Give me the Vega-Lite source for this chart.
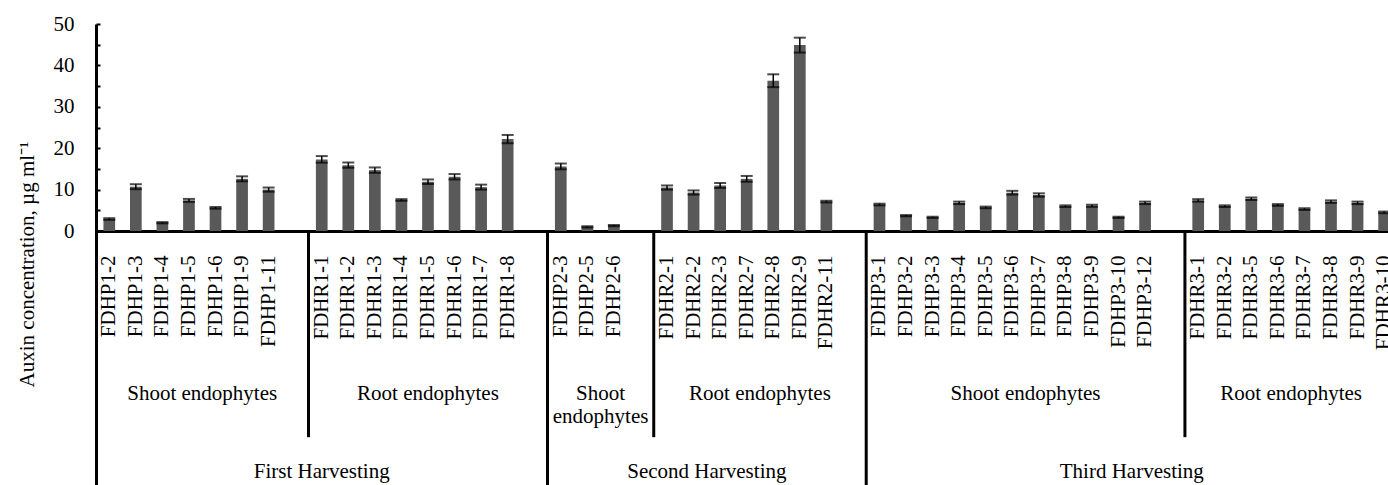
{
  "$schema": "https://vega.github.io/schema/vega-lite/v6.json",
  "width": 1292,
  "height": 461,
  "autosize": {"type": "none"},
  "padding": {"left": 96, "top": 24, "right": 0, "bottom": 0},
  "background": "white",
  "config": {"view": {"stroke": null}, "font": "Liberation Serif", "text": {"font": "Liberation Serif", "fontSize": 21, "color": "black"}, "mark": {"font": "Liberation Serif"}},
  "datasets": {
    "bars": [
      {"strain": "FDHP1-2", "harvest": "First Harvesting", "part": "Shoot endophytes", "value": 2.9, "err": 0.2},
      {"strain": "FDHP1-3", "harvest": "First Harvesting", "part": "Shoot endophytes", "value": 10.7, "err": 0.6},
      {"strain": "FDHP1-4", "harvest": "First Harvesting", "part": "Shoot endophytes", "value": 2.0, "err": 0.15},
      {"strain": "FDHP1-5", "harvest": "First Harvesting", "part": "Shoot endophytes", "value": 7.4, "err": 0.35},
      {"strain": "FDHP1-6", "harvest": "First Harvesting", "part": "Shoot endophytes", "value": 5.6, "err": 0.2},
      {"strain": "FDHP1-9", "harvest": "First Harvesting", "part": "Shoot endophytes", "value": 12.6, "err": 0.6},
      {"strain": "FDHP1-11", "harvest": "First Harvesting", "part": "Shoot endophytes", "value": 10.0, "err": 0.5},
      {"strain": "FDHR1-1", "harvest": "First Harvesting", "part": "Root endophytes", "value": 17.3, "err": 0.8},
      {"strain": "FDHR1-2", "harvest": "First Harvesting", "part": "Root endophytes", "value": 15.9, "err": 0.65},
      {"strain": "FDHR1-3", "harvest": "First Harvesting", "part": "Root endophytes", "value": 14.7, "err": 0.65},
      {"strain": "FDHR1-4", "harvest": "First Harvesting", "part": "Root endophytes", "value": 7.5, "err": 0.2},
      {"strain": "FDHR1-5", "harvest": "First Harvesting", "part": "Root endophytes", "value": 11.9, "err": 0.55},
      {"strain": "FDHR1-6", "harvest": "First Harvesting", "part": "Root endophytes", "value": 13.1, "err": 0.65},
      {"strain": "FDHR1-7", "harvest": "First Harvesting", "part": "Root endophytes", "value": 10.6, "err": 0.6},
      {"strain": "FDHR1-8", "harvest": "First Harvesting", "part": "Root endophytes", "value": 22.2, "err": 1.0},
      {"strain": "FDHP2-3", "harvest": "Second Harvesting", "part": "Shoot endophytes", "value": 15.6, "err": 0.7},
      {"strain": "FDHP2-5", "harvest": "Second Harvesting", "part": "Shoot endophytes", "value": 1.0, "err": 0.15},
      {"strain": "FDHP2-6", "harvest": "Second Harvesting", "part": "Shoot endophytes", "value": 1.3, "err": 0.15},
      {"strain": "FDHR2-1", "harvest": "Second Harvesting", "part": "Root endophytes", "value": 10.5, "err": 0.5},
      {"strain": "FDHR2-2", "harvest": "Second Harvesting", "part": "Root endophytes", "value": 9.3, "err": 0.5},
      {"strain": "FDHR2-3", "harvest": "Second Harvesting", "part": "Root endophytes", "value": 11.0, "err": 0.6},
      {"strain": "FDHR2-7", "harvest": "Second Harvesting", "part": "Root endophytes", "value": 12.6, "err": 0.7},
      {"strain": "FDHR2-8", "harvest": "Second Harvesting", "part": "Root endophytes", "value": 36.3, "err": 1.55},
      {"strain": "FDHR2-9", "harvest": "Second Harvesting", "part": "Root endophytes", "value": 44.9, "err": 1.8},
      {"strain": "FDHR2-11", "harvest": "Second Harvesting", "part": "Root endophytes", "value": 7.1, "err": 0.2},
      {"strain": "FDHP3-1", "harvest": "Third Harvesting", "part": "Shoot endophytes", "value": 6.4, "err": 0.2},
      {"strain": "FDHP3-2", "harvest": "Third Harvesting", "part": "Shoot endophytes", "value": 3.7, "err": 0.15},
      {"strain": "FDHP3-3", "harvest": "Third Harvesting", "part": "Shoot endophytes", "value": 3.3, "err": 0.15},
      {"strain": "FDHP3-4", "harvest": "Third Harvesting", "part": "Shoot endophytes", "value": 6.8, "err": 0.3},
      {"strain": "FDHP3-5", "harvest": "Third Harvesting", "part": "Shoot endophytes", "value": 5.7, "err": 0.2},
      {"strain": "FDHP3-6", "harvest": "Third Harvesting", "part": "Shoot endophytes", "value": 9.25, "err": 0.45},
      {"strain": "FDHP3-7", "harvest": "Third Harvesting", "part": "Shoot endophytes", "value": 8.7, "err": 0.4},
      {"strain": "FDHP3-8", "harvest": "Third Harvesting", "part": "Shoot endophytes", "value": 6.0, "err": 0.2},
      {"strain": "FDHP3-9", "harvest": "Third Harvesting", "part": "Shoot endophytes", "value": 6.1, "err": 0.25},
      {"strain": "FDHP3-10", "harvest": "Third Harvesting", "part": "Shoot endophytes", "value": 3.3, "err": 0.15},
      {"strain": "FDHP3-12", "harvest": "Third Harvesting", "part": "Shoot endophytes", "value": 6.8, "err": 0.3},
      {"strain": "FDHR3-1", "harvest": "Third Harvesting", "part": "Root endophytes", "value": 7.4, "err": 0.3},
      {"strain": "FDHR3-2", "harvest": "Third Harvesting", "part": "Root endophytes", "value": 6.0, "err": 0.2},
      {"strain": "FDHR3-5", "harvest": "Third Harvesting", "part": "Root endophytes", "value": 7.8, "err": 0.3},
      {"strain": "FDHR3-6", "harvest": "Third Harvesting", "part": "Root endophytes", "value": 6.3, "err": 0.2},
      {"strain": "FDHR3-7", "harvest": "Third Harvesting", "part": "Root endophytes", "value": 5.3, "err": 0.2},
      {"strain": "FDHR3-8", "harvest": "Third Harvesting", "part": "Root endophytes", "value": 7.1, "err": 0.3},
      {"strain": "FDHR3-9", "harvest": "Third Harvesting", "part": "Root endophytes", "value": 6.8, "err": 0.3},
      {"strain": "FDHR3-10", "harvest": "Third Harvesting", "part": "Root endophytes", "value": 4.5, "err": 0.2}
    ],
    "dividers": [
      {"before": "FDHR1-1", "level": "part"},
      {"before": "FDHP2-3", "level": "harvest"},
      {"before": "FDHR2-1", "level": "part"},
      {"before": "FDHP3-1", "level": "harvest"},
      {"before": "FDHR3-1", "level": "part"}
    ],
    "groups": [
      {"label": "Shoot endophytes", "level": "part", "anchor": "FDHP1-6", "at": "edge"},
      {"label": "Root endophytes", "level": "part", "anchor": "FDHR1-5", "at": "middle"},
      {"label": "Shoot\nendophytes", "level": "part", "anchor": "FDHP2-6", "at": "edge"},
      {"label": "Root endophytes", "level": "part", "anchor": "FDHR2-8", "at": "edge"},
      {"label": "Shoot endophytes", "level": "part", "anchor": "FDHP3-7", "at": "edge"},
      {"label": "Root endophytes", "level": "part", "anchor": "FDHR3-7", "at": "edge"},
      {"label": "First Harvesting", "level": "harvest", "anchor": "FDHR1-1", "at": "middle"},
      {"label": "Second Harvesting", "level": "harvest", "anchor": "FDHR2-3", "at": "edge"},
      {"label": "Third Harvesting", "level": "harvest", "anchor": "FDHP3-12", "at": "edge"}
    ]
  },
  "layer": [
    {
      "data": {"name": "bars"},
      "mark": {"type": "bar", "color": "#595959", "width": {"band": 0.44}},
      "encoding": {
        "x": {
          "field": "strain", "type": "nominal", "title": null,
          "scale": {
            "domain": ["FDHP1-2","FDHP1-3","FDHP1-4","FDHP1-5","FDHP1-6","FDHP1-9","FDHP1-11"," ",
                       "FDHR1-1","FDHR1-2","FDHR1-3","FDHR1-4","FDHR1-5","FDHR1-6","FDHR1-7","FDHR1-8","  ",
                       "FDHP2-3","FDHP2-5","FDHP2-6","   ",
                       "FDHR2-1","FDHR2-2","FDHR2-3","FDHR2-7","FDHR2-8","FDHR2-9","FDHR2-11","    ",
                       "FDHP3-1","FDHP3-2","FDHP3-3","FDHP3-4","FDHP3-5","FDHP3-6","FDHP3-7","FDHP3-8","FDHP3-9","FDHP3-10","FDHP3-12","     ",
                       "FDHR3-1","FDHR3-2","FDHR3-5","FDHR3-6","FDHR3-7","FDHR3-8","FDHR3-9","FDHR3-10"],
            "range": [0, 1301.4],
            "paddingInner": 0,
            "paddingOuter": 0
          },
          "axis": {
            "orient": "bottom", "offset": -254, "title": null,
            "domainColor": "black", "domainWidth": 3,
            "ticks": false,
            "labelAngle": 270, "labelAlign": "right", "labelBaseline": "middle",
            "labelPadding": 24,
            "labelFont": "Liberation Serif", "labelFontSize": 21, "labelColor": "black",
            "labelOverlap": false, "labelBound": false, "labelFlush": false
          }
        },
        "y": {
          "field": "value", "type": "quantitative", "title": "Auxin concentration, µg ml⁻¹",
          "scale": {"domain": [-61.35, 50], "nice": false, "zero": false},
          "axis": {
            "title": "Auxin concentration, µg ml⁻¹",
            "values": [0, 5, 10, 15, 20, 25, 30, 35, 40, 45, 50],
            "labelExpr": "datum.value % 10 === 0 ? datum.label : ''",
            "grid": false,
            "domainColor": "black", "domainWidth": 3,
            "tickColor": "black", "tickWidth": 2, "tickSize": -4,
            "labelFont": "Liberation Serif", "labelFontSize": 21, "labelColor": "black",
            "labelPadding": 26, "labelOverlap": false,
            "titleFont": "Liberation Serif", "titleFontSize": 21, "titleFontWeight": "normal", "titleColor": "black",
            "titleAngle": 270, "titleX": -63, "titleY": 240, "titleAlign": "center", "titleBaseline": "alphabetic"
          }
        },
        "y2": {"datum": 0}
      }
    },
    {
      "data": {"name": "bars"},
      "mark": {"type": "errorbar", "color": "black", "ticks": {"size": 12, "thickness": 2, "color": "black"}, "rule": {"strokeWidth": 1.5, "color": "black"}},
      "encoding": {
        "x": {"field": "strain", "type": "nominal", "title": null},
        "y": {"field": "value", "type": "quantitative", "title": "Auxin concentration, µg ml⁻¹"},
        "yError": {"field": "err"}
      }
    },
    {
      "data": {"name": "dividers"},
      "transform": [{"filter": "datum.level === 'part'"}],
      "mark": {"type": "rule", "color": "black", "strokeWidth": 3},
      "encoding": {
        "x": {"field": "before", "type": "nominal", "bandPosition": 0, "title": null},
        "y": {"datum": 0},
        "y2": {"datum": -49.8}
      }
    },
    {
      "data": {"name": "dividers"},
      "transform": [{"filter": "datum.level === 'harvest'"}],
      "mark": {"type": "rule", "color": "black", "strokeWidth": 3},
      "encoding": {
        "x": {"field": "before", "type": "nominal", "bandPosition": 0, "title": null},
        "y": {"datum": 0},
        "y2": {"datum": -61.35}
      }
    },
    {
      "data": {"name": "groups"},
      "transform": [{"filter": "datum.level === 'part' && datum.at === 'edge'"}],
      "mark": {"type": "text", "font": "Liberation Serif", "fontSize": 21, "color": "black", "align": "center", "baseline": "top", "lineBreak": "\n", "lineHeight": 23},
      "encoding": {
        "x": {"field": "anchor", "type": "nominal", "bandPosition": 0, "title": null},
        "y": {"datum": -36.7},
        "text": {"field": "label"}
      }
    },
    {
      "data": {"name": "groups"},
      "transform": [{"filter": "datum.level === 'part' && datum.at === 'middle'"}],
      "mark": {"type": "text", "font": "Liberation Serif", "fontSize": 21, "color": "black", "align": "center", "baseline": "top", "lineBreak": "\n", "lineHeight": 23},
      "encoding": {
        "x": {"field": "anchor", "type": "nominal", "bandPosition": 0.5, "title": null},
        "y": {"datum": -36.7},
        "text": {"field": "label"}
      }
    },
    {
      "data": {"name": "groups"},
      "transform": [{"filter": "datum.level === 'harvest' && datum.at === 'edge'"}],
      "mark": {"type": "text", "font": "Liberation Serif", "fontSize": 21, "color": "black", "align": "center", "baseline": "middle"},
      "encoding": {
        "x": {"field": "anchor", "type": "nominal", "bandPosition": 0, "title": null},
        "y": {"datum": -58.2},
        "text": {"field": "label"}
      }
    },
    {
      "data": {"name": "groups"},
      "transform": [{"filter": "datum.level === 'harvest' && datum.at === 'middle'"}],
      "mark": {"type": "text", "font": "Liberation Serif", "fontSize": 21, "color": "black", "align": "center", "baseline": "middle"},
      "encoding": {
        "x": {"field": "anchor", "type": "nominal", "bandPosition": 0.5, "title": null},
        "y": {"datum": -58.2},
        "text": {"field": "label"}
      }
    }
  ]
}
